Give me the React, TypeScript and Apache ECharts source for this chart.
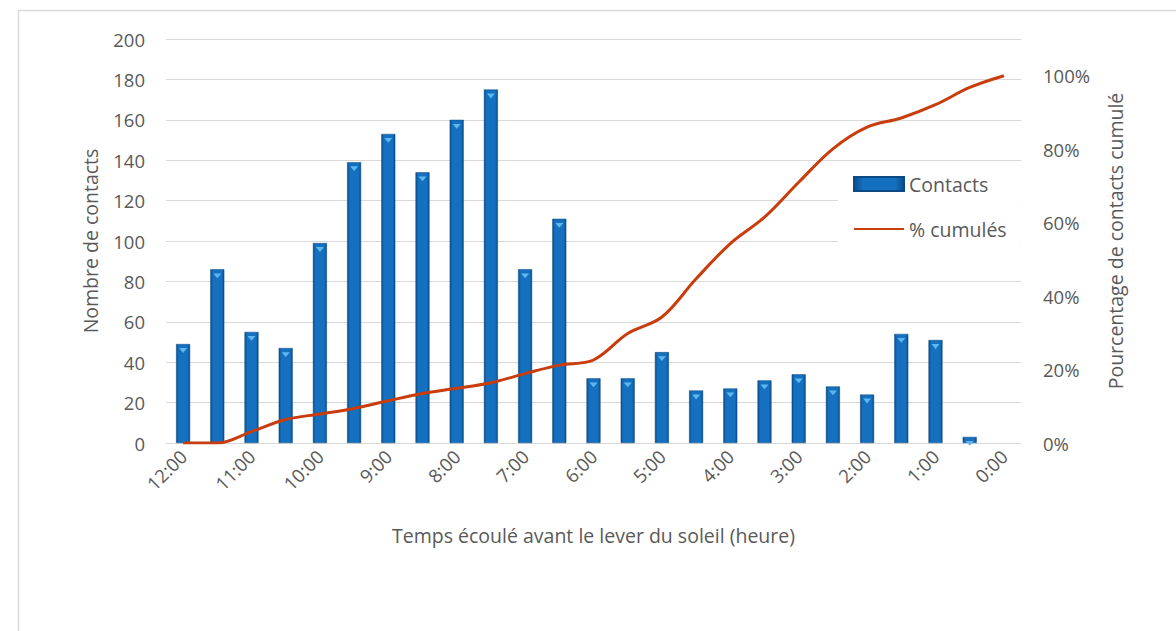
import React, { useEffect, useRef } from "react";
import * as echarts from "echarts";

// Half-hour steps before sunrise, from 12:00 down to 0:00
const categories = [
  "12:00", "11:30", "11:00", "10:30", "10:00", "9:30", "9:00", "8:30", "8:00", "7:30",
  "7:00", "6:30", "6:00", "5:30", "5:00", "4:30", "4:00", "3:30", "3:00", "2:30",
  "2:00", "1:30", "1:00", "0:30", "0:00",
];

// Number of contacts per half-hour slot
const contacts = [
  49, 86, 55, 47, 99, 139, 153, 134, 160, 175,
  86, 111, 32, 32, 45, 26, 27, 31, 34, 28,
  24, 54, 51, 3, null,
];

// Cumulative share of contacts (%)
const cumulative = [
  0, 0, 3.1, 6.4, 7.9, 9.4, 11.5, 13.5, 14.9, 16.4,
  18.9, 21.2, 22.6, 29.8, 34.3, 44.7, 54.3, 61.5, 71, 80.1,
  86, 88.5, 92.1, 96.8, 100,
];

const leftTicks = { min: 0, max: 200, interval: 20 };
const rightTicks = { min: 0, max: 110, interval: 20 };

const FONT = "Open Sans";
const TEXT = "#595959";
const GRID = "#D9D9D9";
const TICK_SIZE = 18.5;
const NAME_SIZE = 19.5;

export default function App() {
  const ref = useRef<HTMLDivElement>(null);

  useEffect(() => {
    if (!ref.current) return;
    const chart = echarts.init(ref.current, null, { renderer: "svg" });

    const barFill = new echarts.graphic.LinearGradient(0, 0, 1, 0, [
      { offset: 0, color: "#0A4E8C" },
      { offset: 0.18, color: "#1570BF" },
      { offset: 0.82, color: "#1570BF" },
      { offset: 1, color: "#0A4E8C" },
    ]);

    chart.setOption({
      animation: false,
      backgroundColor: "#ffffff",
      textStyle: { fontFamily: FONT, color: TEXT },
      graphic: [
        {
          type: "rect",
          shape: { x: 18.5, y: 10.5, width: 1200, height: 700 },
          style: { fill: "none", stroke: GRID, lineWidth: 1.5 },
          silent: true,
        },
      ],
      grid: { left: 166, right: 155, top: 39, bottom: 188 },
      legend: {
        orient: "vertical",
        left: 838,
        top: 162,
        padding: [12, 14, 12, 15],
        backgroundColor: "#ffffff",
        itemWidth: 50,
        itemHeight: 14,
        itemGap: 25,
        data: [
          { name: "Contacts", icon: "rect" },
          { name: "% cumulés", itemStyle: { color: "rgba(0,0,0,0)", borderWidth: 0, opacity: 0 } },
        ],
        textStyle: { fontFamily: FONT, fontSize: NAME_SIZE, color: TEXT, padding: [0, 0, 0, 0] },
      },
      xAxis: {
        type: "category",
        data: categories,
        boundaryGap: true,
        axisLine: { lineStyle: { color: GRID, width: 1 } },
        axisTick: { show: false },
        axisLabel: {
          interval: 1,
          rotate: 45,
          margin: 10,
          fontFamily: FONT,
          fontSize: TICK_SIZE,
          color: TEXT,
        },
        name: "Temps écoulé avant le lever du soleil (heure)",
        nameLocation: "middle",
        nameGap: 82,
        nameTextStyle: { fontFamily: FONT, fontSize: NAME_SIZE, color: TEXT },
      },
      yAxis: [
        {
          type: "value",
          ...leftTicks,
          axisLine: { show: false },
          axisTick: { show: false },
          splitLine: { lineStyle: { color: GRID, width: 1 } },
          axisLabel: { margin: 21, fontFamily: FONT, fontSize: TICK_SIZE, color: TEXT },
          name: "Nombre de contacts",
          nameLocation: "middle",
          nameRotate: 90,
          nameGap: 66,
          nameTextStyle: { fontFamily: FONT, fontSize: NAME_SIZE, color: TEXT },
        },
        {
          type: "value",
          ...rightTicks,
          position: "right",
          axisLine: { show: false },
          axisTick: { show: false },
          splitLine: { show: false },
          axisLabel: {
            margin: 22,
            fontFamily: FONT,
            fontSize: TICK_SIZE,
            color: TEXT,
            formatter: (v: number) => (v <= 100 ? `${v}%` : ""),
          },
          name: "Pourcentage de contacts cumulé",
          nameLocation: "middle",
          nameRotate: 90,
          nameGap: 84,
          nameTextStyle: { fontFamily: FONT, fontSize: NAME_SIZE, color: TEXT },
        },
      ],
      series: [
        {
          name: "Contacts",
          type: "bar",
          yAxisIndex: 0,
          data: contacts,
          barWidth: 14,
          itemStyle: { color: barFill, borderColor: "#0B4A85", borderWidth: 0.5 },
          z: 2,
        },
        {
          // light bevel cap at the top of every bar
          name: "cap",
          type: "pictorialBar",
          yAxisIndex: 0,
          data: contacts,
          symbol: "triangle",
          symbolRotate: 180,
          symbolSize: [8, 5],
          symbolPosition: "end",
          symbolOffset: [0, 4],
          itemStyle: { color: "#5DB8F2" },
          silent: true,
          z: 3,
        },
        {
          name: "% cumulés",
          type: "line",
          yAxisIndex: 1,
          data: cumulative,
          smooth: 0.35,
          symbol: "none",
          lineStyle: { color: "#C93C0C", width: 3 },
          itemStyle: { color: "#C93C0C" },
          z: 4,
        },
      ],
    });

    return () => chart.dispose();
  }, []);

  return (
    <div
      ref={ref}
      style={{ position: "fixed", left: 0, top: 0, width: 1176, height: 631 }}
    />
  );
}
